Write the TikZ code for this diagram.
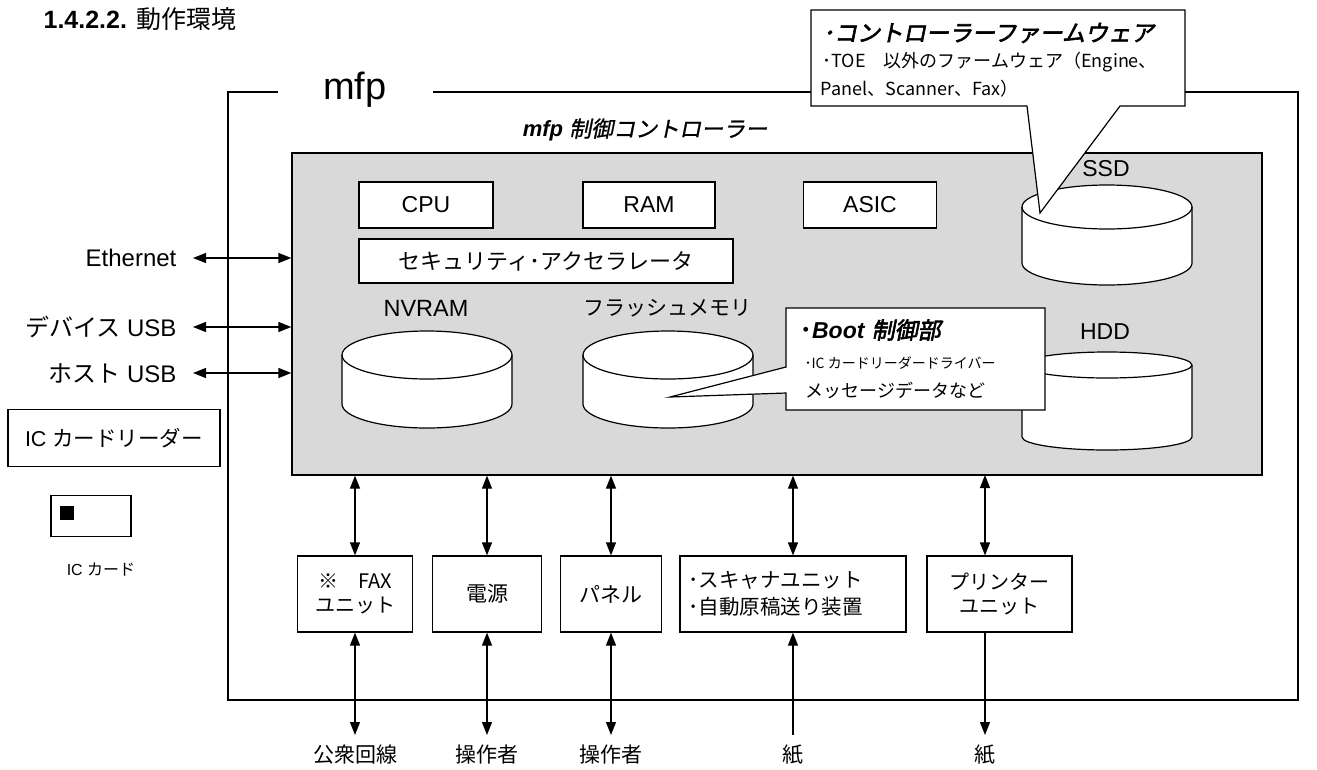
\documentclass[tikz,border=0pt]{standalone}
\usepackage{fontspec}
\setmainfont{Liberation Sans}
\newfontfamily\jp{Noto Sans CJK JP}
\newfontfamily\jpsl{Noto Sans CJK JP}[FakeSlant=0.2,FakeBold=1]
\newfontfamily\jpslb{Noto Sans CJK JP}[FakeSlant=0.2,FakeBold=2.5]
\usetikzlibrary{arrows.meta}
\newcommand\fsz[1]{\fontsize{#1}{#1}\selectfont}
\newcommand\cyl[6]{%
  \filldraw[fill=white] ({#2-#5},#3) -- ({#2-#5},#4)
    arc[start angle=180,end angle=360,x radius=#5pt,y radius=#6pt] -- ({#2+#5},#3)
    arc[start angle=0,end angle=180,x radius=#5pt,y radius=#6pt] -- cycle;
  \draw ({#2-#5},#3) arc[start angle=180,end angle=360,x radius=#5pt,y radius=#6pt];
  \coordinate (#1) at (#2,{(#3+#4)/2});}
\tikzset{
  box/.style={draw, fill=white, inner sep=0pt, align=center, line width=1.2pt},
  lbl/.style={inner sep=0pt, align=center},
  arr/.style={{Triangle[length=13pt,width=10pt]}-{Triangle[length=13pt,width=10pt]}, line width=1.2pt},
  arrend/.style={-{Triangle[length=13pt,width=10pt]}, line width=1.2pt},
}
\begin{document}
\begin{tikzpicture}[x=1pt,y=-1pt,line width=1.2pt]
\useasboundingbox (0,0) rectangle (1317,769);
% title
\node[lbl, anchor=west] (title) at (43,19) {\fsz{25}\textbf{1.4.2.2.} {\jp 動作環境}};
% outer frame
\draw (278,92) -- (228,92) -- (228,700) -- (1298,700) -- (1298,92) -- (433,92);
\node[lbl] (mfp) at (355,90) {\fsz{38}mfp};
% controller
\node[lbl] (ctrltitle) at (645,130) {\fsz{22}\textit{\textbf{mfp}} {\jpsl 制御コントローラー}};
\node[draw, fill=black!15, minimum width=970pt, minimum height=322pt, inner sep=0pt] (ctrl) at (777,314) {};
\node[box, minimum width=134pt, minimum height=46pt] (cpu) at (426,205) {\fsz{23}CPU};
\node[box, minimum width=132pt, minimum height=46pt] (ram) at (649,205) {\fsz{23}RAM};
\node[box, minimum width=133pt, minimum height=46pt] (asic) at (870,205) {\fsz{23}ASIC};
\node[box, minimum width=374pt, minimum height=44pt] (sec) at (546,261) {\fsz{22}\jp セキュリティ･アクセラレータ};
% storages
\node[lbl] (nvlbl) at (426,308) {\fsz{23.5}NVRAM};
\node[lbl] (fllbl) at (667,308) {\fsz{21}\jp フラッシュメモリ};
\node[lbl] (ssdlbl) at (1106,169) {\fsz{23}SSD};
\node[lbl] (hddlbl) at (1105,332) {\fsz{23}HDD};
\cyl{nvram}{427}{355}{404}{85}{24}
\cyl{flash}{668}{355}{404}{85}{24}
\cyl{ssd}{1107}{207}{263}{85}{22}
\cyl{hdd}{1107}{365}{437}{85}{13}
% boot callout
\filldraw[fill=white] (786,308) -- (1045,308) -- (1045,410) -- (786,410) -- (786,393) -- (670,397) -- (786,367) -- cycle;
\node[lbl, anchor=west] (boot1) at (800,330) {\fsz{23}{\jp\bfseries ･}\textbf{\textit{Boot}} {\jpslb 制御部}};
\node[lbl, anchor=west] (boot2) at (804,363) {\fsz{14}\jp ･IC カードリーダードライバー};
\node[lbl, anchor=west] (boot3) at (805,390) {\fsz{18}\jp メッセージデータなど};
% firmware callout
\filldraw[fill=white] (811,10) -- (1185,10) -- (1185,106) -- (1120,106) -- (1040,213) -- (1027,106) -- (811,106) -- cycle;
\node[lbl, anchor=west] (fw1) at (822,33) {\fsz{23}\jpslb ･コントローラーファームウェア};
\node[lbl, anchor=west] (fw2) at (822,62) {\fsz{18}\jp ･TOE　以外のファームウェア（Engine、};
\node[lbl, anchor=west] (fw3) at (820,89) {\fsz{18}\jp Panel、Scanner、Fax）};
% left interfaces
\node[lbl, anchor=east] (eth) at (177,258) {\fsz{24}Ethernet};
\node[lbl, anchor=east] (dusb) at (177,327) {\fsz{24}{\jp デバイス} USB};
\node[lbl, anchor=east] (husb) at (177,373) {\fsz{24}{\jp ホスト} USB};
\draw[arr] ([xshift=16pt]eth.east) -- (ctrl.west |- eth.east);
\draw[arr] ([xshift=16pt]dusb.east) -- (ctrl.west |- dusb.east);
\draw[arr] ([xshift=16pt]husb.east) -- (ctrl.west |- husb.east);
\node[box, minimum width=212pt, minimum height=57pt] (icr) at (114,438) {\fsz{21.5}IC {\jp カードリーダー}};
\node[box, minimum width=80pt, minimum height=41pt] (icc) at (91,516) {};
\node[fill=black, minimum size=14pt, inner sep=0pt] (chip) at (67,513) {};
\node[lbl] (icclbl) at (101,570) {\fsz{16}IC {\jp カード}};
% bottom units
\node[box, minimum width=115pt, minimum height=76pt] (fax) at (355,594) {\fsz{20}\jp ※　FAX\\[7pt]\fsz{20}\jp ユニット};
\node[box, minimum width=109pt, minimum height=76pt] (pwr) at (487,594) {\fsz{21}\jp 電源};
\node[box, minimum width=101pt, minimum height=76pt] (pnl) at (611,594) {\fsz{21}\jp パネル};
\node[box, minimum width=226pt, minimum height=76pt] (scn) at (793,594) {};
\node[lbl, anchor=west] (scn1) at (688,580) {\fsz{20.5}\jp ･スキャナユニット};
\node[lbl, anchor=west] (scn2) at (688,607) {\fsz{20.5}\jp ･自動原稿送り装置};
\node[box, minimum width=145pt, minimum height=76pt] (prn) at (999.5,594) {\fsz{20}\jp プリンター\\[7pt]\fsz{20}\jp ユニット};
\foreach \n in {fax,pwr,pnl,scn} \draw[arr] (ctrl.south -| \n.north) -- (\n.north);
\draw[arr] (985,475) -- (prn.north -| 985,0);
% external labels
\node[lbl, anchor=north] (o1) at (355,744) {\fsz{21}\jp 公衆回線};
\node[lbl, anchor=north] (o2) at (487,744) {\fsz{21}\jp 操作者};
\node[lbl, anchor=north] (o3) at (611,744) {\fsz{21}\jp 操作者};
\node[lbl, anchor=north] (o4) at (793,744) {\fsz{21}\jp 紙};
\node[lbl, anchor=north] (o5) at (985,744) {\fsz{21}\jp 紙};
\draw[arr] (fax.south) -- ([yshift=9pt]o1.north);
\draw[arr] (pwr.south) -- ([yshift=9pt]o2.north);
\draw[arr] (pnl.south) -- ([yshift=9pt]o3.north);
\draw[arrend] ([yshift=9pt]o4.north) -- (scn.south);
\draw[arrend] (prn.south -| o5.north) -- ([yshift=9pt]o5.north);
\end{tikzpicture}
\end{document}
